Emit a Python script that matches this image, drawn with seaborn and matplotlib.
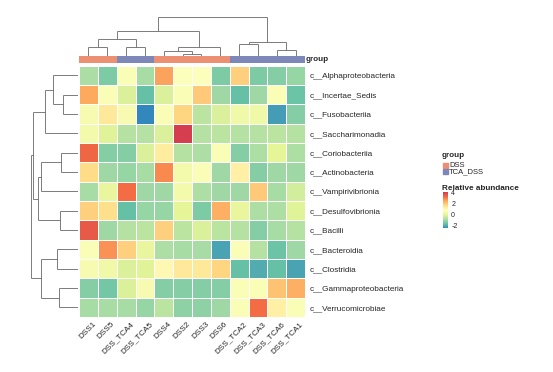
import numpy as np
import pandas as pd
import matplotlib
matplotlib.use("Agg")
import matplotlib.pyplot as plt
import seaborn as sns
from matplotlib.colors import LinearSegmentedColormap, ListedColormap
from matplotlib.patches import Rectangle
from matplotlib.transforms import ScaledTranslation

# ---------------- data ----------------
samples = ["DSS1", "DSS5", "DSS_TCA4", "DSS_TCA5", "DSS4", "DSS2", "DSS3", "DSS6",
           "DSS_TCA2", "DSS_TCA3", "DSS_TCA6", "DSS_TCA1"]
groups = ["DSS", "DSS", "TCA_DSS", "TCA_DSS", "DSS", "DSS", "DSS", "DSS",
          "TCA_DSS", "TCA_DSS", "TCA_DSS", "TCA_DSS"]
taxa = ["c__Alphaproteobacteria", "c__Incertae_Sedis", "c__Fusobacteriia",
        "c__Saccharimonadia", "c__Coriobacteriia", "c__Actinobacteria",
        "c__Vampirivibrionia", "c__Desulfovibrionia", "c__Bacilli",
        "c__Bacteroidia", "c__Clostridia", "c__Gammaproteobacteria",
        "c__Verrucomicrobiae"]

alpha_ = [-0.85, -1.4, 0.6, -0.9, 2.6, 0.7, 0.7, -1.4, 1.9, -1.4, -1.3, -1.1]
incert = [2.5, 0.6, -0.2, -1.7, -0.2, 0.6, 2.0, -1.0, -1.7, -1.0, 0.6, -1.6]
fuso = [0.5, 1.4, 0.5, -2.5, 0.6, 1.8, -0.6, -0.2, 0.3, 0.3, -2.2, -1.3]
saccha = [0.4, -0.1, -0.7, -0.7, -0.2, 4.1, -0.7, -0.6, -0.7, -0.7, -0.6, -0.7]
corio = [3.4, -1.3, -1.3, -0.2, 1.3, -0.7, -0.8, 0.6, -1.3, -0.8, 0.0, -0.8]
actino = [1.7, -1.0, -1.1, -0.9, 2.9, 0.4, 0.6, -1.0, 1.2, -1.3, -1.0, -1.0]
vampi = [-0.9, 0.1, 3.3, -1.0, -1.0, 0.4, -0.8, -1.0, -1.0, 2.0, -0.9, -0.3]
desulfo = [1.9, 1.6, -1.7, -1.1, -1.1, 0.0, -1.4, 2.4, 0.1, -0.8, -0.8, -0.1]
bacilli = [3.6, -1.0, -0.7, -0.6, 1.9, -0.6, -0.2, -0.6, -0.7, -1.3, -0.9, -0.7]
bactero = [0.6, 2.8, 1.9, 0.1, -0.8, -0.9, -0.9, -2.1, 0.6, -0.7, -1.6, -1.0]
clostr = [0.5, 0.3, -0.2, -0.1, 1.0, 1.4, 1.4, 1.8, -1.7, -2.0, -1.7, -2.1]
gamma = [-1.3, -1.5, -0.2, 0.5, -1.3, -1.3, -1.3, -1.3, 0.6, 0.6, 2.1, 2.4]
verru = [-0.9, -0.9, -0.9, -1.1, -0.6, -1.2, -1.2, -1.0, 0.6, 3.3, 1.2, 0.6]

# dendrogram merges: (child a, child b, merge height); ids >= n refer to earlier merges
col_merges = [(0, 1, 8.2), (2, 3, 8.8), (12, 13, 16.2), (5, 6, 2.0), (4, 15, 4.2),
              (16, 7, 8.8), (14, 17, 25.0), (8, 9, 11.2), (10, 11, 5.5),
              (19, 20, 13.8), (18, 21, 38.5)]
row_merges = [(1, 2, 15.5), (0, 13, 24.7), (14, 3, 32.7), (4, 5, 17.5), (16, 6, 37.0),
              (7, 8, 18.5), (17, 18, 39.7), (9, 10, 21.3), (11, 12, 18.7),
              (20, 21, 37.0), (15, 19, 45.5), (23, 22, 47.0)]

# ---------------- styling ----------------
sns.set_style("white")
plt.rcParams["font.family"] = ["Liberation Sans", "DejaVu Sans"]
plt.rcParams["axes.unicode_minus"] = False

W, H = 553, 372
fig = plt.figure(figsize=(W / 100, H / 100), dpi=100)


def px_axes(x0, y0, x1, y1):
    return fig.add_axes([x0 / W, 1 - y1 / H, (x1 - x0) / W, (y1 - y0) / H])


spectral = ["#3288bd", "#66c2a5", "#abdda4", "#e6f598", "#ffffbf",
            "#fee08b", "#fdae61", "#f46d43", "#d53e4f"]
cmap = LinearSegmentedColormap.from_list("spec", spectral, N=256)
grp_colors = {"DSS": "#EC8F73", "TCA_DSS": "#7D88B8"}

df = pd.DataFrame([alpha_, incert, fuso, saccha, corio, actino, vampi, desulfo,
                   bacilli, bactero, clostr, gamma, verru], index=taxa, columns=samples)

ax = px_axes(79, 65.7, 305, 317)
cax = px_axes(443, 192.3, 448, 228.3)
sns.heatmap(df, ax=ax, cmap=cmap, vmin=-2.5, vmax=4.1, linewidths=0.6,
            linecolor="white", cbar=True, cbar_ax=cax,
            xticklabels=True, yticklabels=True)
ax.yaxis.tick_right()
ax.set_yticklabels(taxa, rotation=0, fontsize=5.9, ha="left")
ax.tick_params(axis="y", length=0, pad=3)
ax.set_xticklabels(samples, rotation=45, ha="right", va="top",
                   rotation_mode="anchor", fontsize=5.9)
ax.tick_params(axis="x", length=0, pad=2.5)
off = ScaledTranslation(4.0 / 100, 0, fig.dpi_scale_trans)
for lab in ax.get_xticklabels():
    lab.set_transform(lab.get_transform() + off)
ax.set_xlabel("")
ax.set_ylabel("")

cbar = ax.collections[0].colorbar
cbar.set_ticks([-2, 0, 2, 4])
cbar.ax.tick_params(labelsize=5.0, length=1.5, width=0.5, color="white", pad=0.8)
cbar.outline.set_visible(False)

# group annotation bar
gax = px_axes(79, 55.7, 305, 63.3)
codes = np.array([[0 if g == "DSS" else 1 for g in groups]])
sns.heatmap(codes, ax=gax, cmap=ListedColormap([grp_colors["DSS"], grp_colors["TCA_DSS"]]),
            vmin=0, vmax=1, cbar=False, xticklabels=False, yticklabels=False)
fig.text(306 / W, 1 - 59.5 / H, "group", fontsize=5.9, fontweight="bold",
         va="center", ha="left")


def dendro_segments(merges, n):
    pos = {i: i + 0.5 for i in range(n)}
    hgt = {i: 0.0 for i in range(n)}
    segs = []
    for k, (a, b, h) in enumerate(merges):
        segs.append(((pos[a], hgt[a]), (pos[a], h)))
        segs.append(((pos[b], hgt[b]), (pos[b], h)))
        segs.append(((pos[a], h), (pos[b], h)))
        pos[n + k] = (pos[a] + pos[b]) / 2
        hgt[n + k] = h
    return segs


lc = "#666666"
dax = px_axes(79, 15, 305, 55.5)
for (x0, y0), (x1, y1) in dendro_segments(col_merges, len(samples)):
    dax.plot([x0, x1], [y0, y1], color=lc, lw=0.6, solid_capstyle="butt")
dax.set_xlim(0, len(samples))
dax.set_ylim(0, 40.5)
dax.axis("off")

rax = px_axes(26, 65.7, 78, 317)
for (p0, h0), (p1, h1) in dendro_segments(row_merges, len(taxa)):
    rax.plot([h0, h1], [p0, p1], color=lc, lw=0.6, solid_capstyle="butt")
rax.set_xlim(52, 0)
rax.set_ylim(len(taxa), 0)
rax.axis("off")

# legend
fig.text(442 / W, 1 - 155 / H, "group", fontsize=5.9, fontweight="bold", va="center", ha="left")
for name, yc in [("DSS", 165.7), ("TCA_DSS", 171.7)]:
    fig.patches.append(Rectangle((443 / W, 1 - (yc + 2.6) / H), 4.6 / W, 5.2 / H,
                                 transform=fig.transFigure, color=grp_colors[name]))
    fig.text(449 / W, 1 - yc / H, name, fontsize=5.5, va="center", ha="left")
fig.text(442 / W, 1 - 188 / H, "Relative abundance", fontsize=5.9, fontweight="bold",
         va="center", ha="left")

fig.savefig("out.png", dpi=100)
